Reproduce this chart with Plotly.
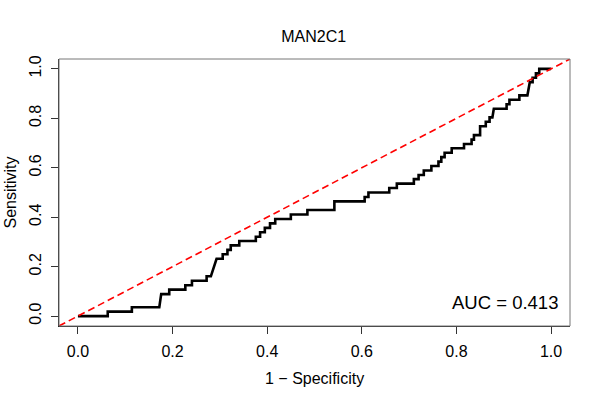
import plotly.graph_objects as go

# ROC curve vertices (1 - specificity, sensitivity)
fpr = [0.000, 0.063, 0.063, 0.114, 0.114, 0.172, 0.176, 0.193, 0.193, 0.227,
       0.227, 0.241, 0.241, 0.272, 0.272, 0.281, 0.293, 0.306, 0.306, 0.316,
       0.316, 0.323, 0.323, 0.341, 0.341, 0.376, 0.376, 0.385, 0.385, 0.395,
       0.395, 0.406, 0.406, 0.417, 0.417, 0.450, 0.450, 0.485, 0.485, 0.542,
       0.542, 0.606, 0.606, 0.614, 0.614, 0.658, 0.658, 0.674, 0.674, 0.710,
       0.710, 0.720, 0.720, 0.731, 0.731, 0.747, 0.747, 0.762, 0.762, 0.768,
       0.768, 0.775, 0.775, 0.790, 0.790, 0.816, 0.816, 0.832, 0.832, 0.837,
       0.837, 0.850, 0.850, 0.862, 0.862, 0.870, 0.870, 0.876, 0.879, 0.906,
       0.906, 0.912, 0.912, 0.933, 0.933, 0.950, 0.955, 0.961, 0.961, 0.968,
       0.968, 0.975, 0.975, 1.000]
tpr = [0.000, 0.000, 0.018, 0.018, 0.036, 0.036, 0.089, 0.089, 0.107, 0.107,
       0.125, 0.125, 0.143, 0.143, 0.161, 0.161, 0.232, 0.232, 0.250, 0.250,
       0.268, 0.268, 0.286, 0.286, 0.304, 0.304, 0.321, 0.321, 0.339, 0.339,
       0.357, 0.357, 0.375, 0.375, 0.393, 0.393, 0.411, 0.411, 0.429, 0.429,
       0.464, 0.464, 0.482, 0.482, 0.500, 0.500, 0.518, 0.518, 0.536, 0.536,
       0.554, 0.554, 0.571, 0.571, 0.589, 0.589, 0.607, 0.607, 0.625, 0.625,
       0.643, 0.643, 0.661, 0.661, 0.679, 0.679, 0.696, 0.696, 0.714, 0.714,
       0.732, 0.732, 0.768, 0.768, 0.786, 0.786, 0.804, 0.804, 0.839, 0.839,
       0.857, 0.857, 0.875, 0.875, 0.893, 0.893, 0.946, 0.946, 0.964, 0.964,
       0.982, 0.982, 1.000, 1.000]

diag = [-0.04, 1.04]
ticks = [0.0, 0.2, 0.4, 0.6, 0.8, 1.0]
tick_labels = ["0.0", "0.2", "0.4", "0.6", "0.8", "1.0"]
title_text = "MAN2C1"
auc_text = "AUC = 0.413"

FONT = "Liberation Sans, Arial, sans-serif"

fig = go.Figure()
fig.add_trace(go.Scatter(x=fpr, y=tpr, mode="lines",
                         line=dict(color="black", width=2.6),
                         hoverinfo="skip", showlegend=False))
fig.add_trace(go.Scatter(x=diag, y=diag, mode="lines",
                         line=dict(color="#FF0000", width=1.6, dash="7px,4px"),
                         hoverinfo="skip", showlegend=False))

axis_common = dict(range=[-0.04, 1.04], tickvals=ticks, ticktext=tick_labels,
                   ticks="outside", ticklen=7, tickwidth=1, tickcolor="#333",
                   showgrid=False, zeroline=False, showline=True,
                   linecolor="#222", linewidth=1,
                   tickfont=dict(family=FONT, size=16, color="black"))

fig.update_layout(
    width=600, height=400,
    margin=dict(l=59, r=30, t=59, b=74),
    plot_bgcolor="white", paper_bgcolor="white",
    xaxis=dict(**axis_common, ticklabelstandoff=4),
    yaxis=dict(**axis_common, tickangle=-90, ticklabelstandoff=4),
    title=dict(text=title_text, x=313.7 / 600, xanchor="center",
               y=1 - 36.5 / 400, yanchor="middle", yref="container",
               font=dict(family=FONT, size=16, color="black")),
    shapes=[dict(type="rect", xref="paper", yref="paper", x0=0, y0=0, x1=1, y1=1,
                 line=dict(color="#777", width=1), fillcolor="rgba(0,0,0,0)")],
    annotations=[
        dict(text=auc_text, x=1.018, y=0.057, xref="x", yref="y",
             xanchor="right", yanchor="middle", showarrow=False,
             font=dict(family=FONT, size=18.5, color="black")),
        dict(text="1 \u2212 Specificity", x=0.5, y=-52 / 267, xref="paper", yref="paper",
             xanchor="center", yanchor="middle", showarrow=False,
             font=dict(family=FONT, size=16, color="black")),
        dict(text="Sensitivity", x=-49 / 511, y=0.5, xref="paper", yref="paper",
             xanchor="center", yanchor="middle", showarrow=False, textangle=-90,
             font=dict(family=FONT, size=16, color="black")),
    ],
)

# remove the browser's default 8px body margin so the figure fills the window exactly
fig.write_html("out.html", config={"displayModeBar": False},
               post_script="document.body.style.margin='0';")
